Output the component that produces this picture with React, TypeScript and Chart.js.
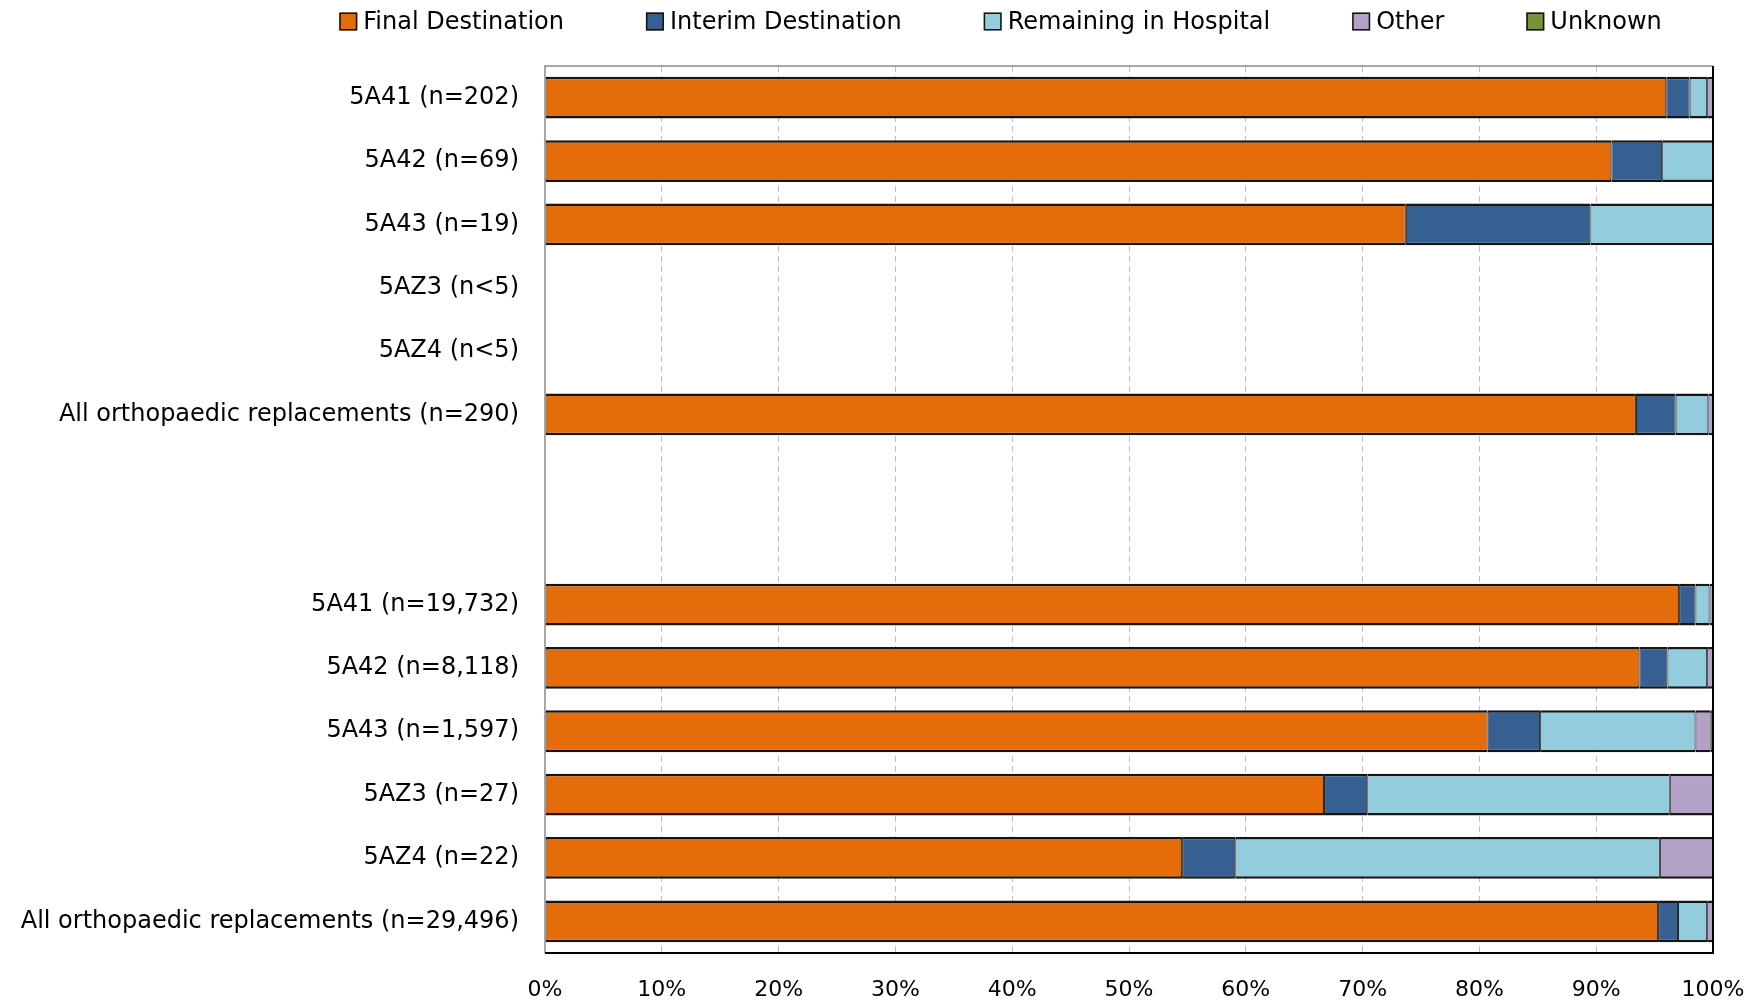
import React, { useEffect, useRef } from 'react';
import { Chart, registerables } from 'chart.js';

Chart.register(...registerables);

const categories = [
  '5A41 (n=202)',
  '5A42 (n=69)',
  '5A43 (n=19)',
  '5AZ3 (n<5)',
  '5AZ4 (n<5)',
  'All orthopaedic replacements (n=290)',
  '',
  ' ',
  '5A41 (n=19,732)',
  '5A42 (n=8,118)',
  '5A43 (n=1,597)',
  '5AZ3 (n=27)',
  '5AZ4 (n=22)',
  'All orthopaedic replacements (n=29,496)',
];

const finalDestination = [96.0, 91.3, 73.7, null, null, 93.4, null, null, 97.1, 93.7, 80.7, 66.7, 54.55, 95.3];
const interimDestination = [2.0, 4.35, 15.8, null, null, 3.4, null, null, 1.4, 2.4, 4.5, 3.7, 4.55, 1.7];
const remainingInHospital = [1.5, 4.35, 10.5, null, null, 2.8, null, null, 1.2, 3.4, 13.3, 25.9, 36.35, 2.5];
const other = [0.5, null, null, null, null, 0.4, null, null, 0.3, 0.5, 1.3, 3.7, 4.55, 0.5];
const unknown = [null, null, null, null, null, null, null, null, null, null, 0.2, null, null, null];

const seriesNames = ['Final Destination', 'Interim Destination', 'Remaining in Hospital', 'Other', 'Unknown'];
const seriesValues = [finalDestination, interimDestination, remainingInHospital, other, unknown];
const seriesColors = ['#E46C0A', '#366092', '#93CDDD', '#B3A2C7', '#77933C'];

const xTickStep = 10;
const FONT = "'DejaVu Sans', sans-serif";

const legendPlugin = {
  id: 'customLegend',
  afterDraw(chart: any) {
    const ctx = chart.ctx;
    ctx.save();
    ctx.font = `24px ${FONT}`;
    const box = 18;
    const textGap = 6;
    const itemGap = 82;
    const widths = seriesNames.map((n) => ctx.measureText(n).width);
    const total = widths.reduce((s, w) => s + box + textGap + w, 0) + itemGap * (seriesNames.length - 1);
    let x = 1000.5 - total / 2;
    const boxTop = 12.5;
    const textY = 23;
    seriesNames.forEach((name, i) => {
      ctx.fillStyle = seriesColors[i];
      ctx.fillRect(x, boxTop, box, box);
      ctx.strokeStyle = '#111';
      ctx.lineWidth = 1.5;
      ctx.strokeRect(x + 0.75, boxTop + 0.75, box - 1.5, box - 1.5);
      ctx.fillStyle = '#000';
      ctx.textBaseline = 'middle';
      ctx.textAlign = 'left';
      ctx.fillText(name, x + box + textGap, textY);
      x += box + textGap + widths[i] + itemGap;
    });
    ctx.restore();
  },
};

const framePlugin = {
  id: 'frame',
  afterDraw(chart: any) {
    const { ctx, chartArea } = chart;
    const { left, right, top, bottom } = chartArea;
    ctx.save();
    ctx.strokeStyle = '#8a8a8a';
    ctx.lineWidth = 1.5;
    ctx.beginPath();
    ctx.moveTo(left, bottom);
    ctx.lineTo(left, top);
    ctx.lineTo(right, top);
    ctx.stroke();
    ctx.strokeStyle = '#000';
    ctx.lineWidth = 2;
    ctx.beginPath();
    ctx.moveTo(right, top);
    ctx.lineTo(right, bottom);
    ctx.lineTo(left, bottom);
    ctx.stroke();
    ctx.restore();
  },
};

export default function App() {
  const ref = useRef<HTMLCanvasElement | null>(null);

  useEffect(() => {
    if (!ref.current) return;
    const chart = new Chart(ref.current, {
      type: 'bar',
      data: {
        labels: categories,
        datasets: seriesNames.map((name, i) => ({
          label: name,
          data: seriesValues[i] as any,
          backgroundColor: seriesColors[i],
          borderColor: '#151515',
          borderWidth: { top: 2.5, bottom: 2.5, left: 1, right: 1 },
          borderSkipped: false,
          barPercentage: 0.66,
          categoryPercentage: 1,
        })),
      },
      options: {
        animation: false,
        responsive: false,
        indexAxis: 'y',
        layout: { padding: { top: 66, right: 49, left: 0, bottom: 0 } },
        plugins: {
          legend: { display: false },
          tooltip: { enabled: false },
        },
        scales: {
          x: {
            stacked: true,
            min: 0,
            max: 100,
            afterFit: (s: any) => {
              s.height = 50;
              s.paddingRight = 0;
              s.paddingLeft = 0;
            },
            ticks: {
              stepSize: xTickStep,
              callback: (v: any) => `${v}%`,
              padding: 24,
              font: { family: FONT, size: 22 },
              color: '#000',
              maxRotation: 0,
              autoSkip: false,
            },
            grid: {
              drawTicks: false,
              color: (c: any) =>
                c.tick && (c.tick.value === 0 || c.tick.value === 100) ? 'rgba(0,0,0,0)' : '#BFBFBF',
              lineWidth: 1,
            },
            border: { display: false, dash: [6, 4] },
          },
          y: {
            stacked: true,
            afterFit: (s: any) => {
              s.width = 545;
            },
            ticks: {
              padding: 26,
              font: { family: FONT, size: 24 },
              color: '#000',
              autoSkip: false,
            },
            grid: { display: false, drawTicks: false },
            border: { display: false },
          },
        },
      } as any,
      plugins: [legendPlugin, framePlugin],
    });
    return () => chart.destroy();
  }, []);

  return (
    <div style={{ position: 'fixed', left: 0, top: 0, width: 1762, height: 1003 }}>
      <canvas ref={ref} width={1762} height={1003} style={{ display: 'block' }} />
    </div>
  );
}
